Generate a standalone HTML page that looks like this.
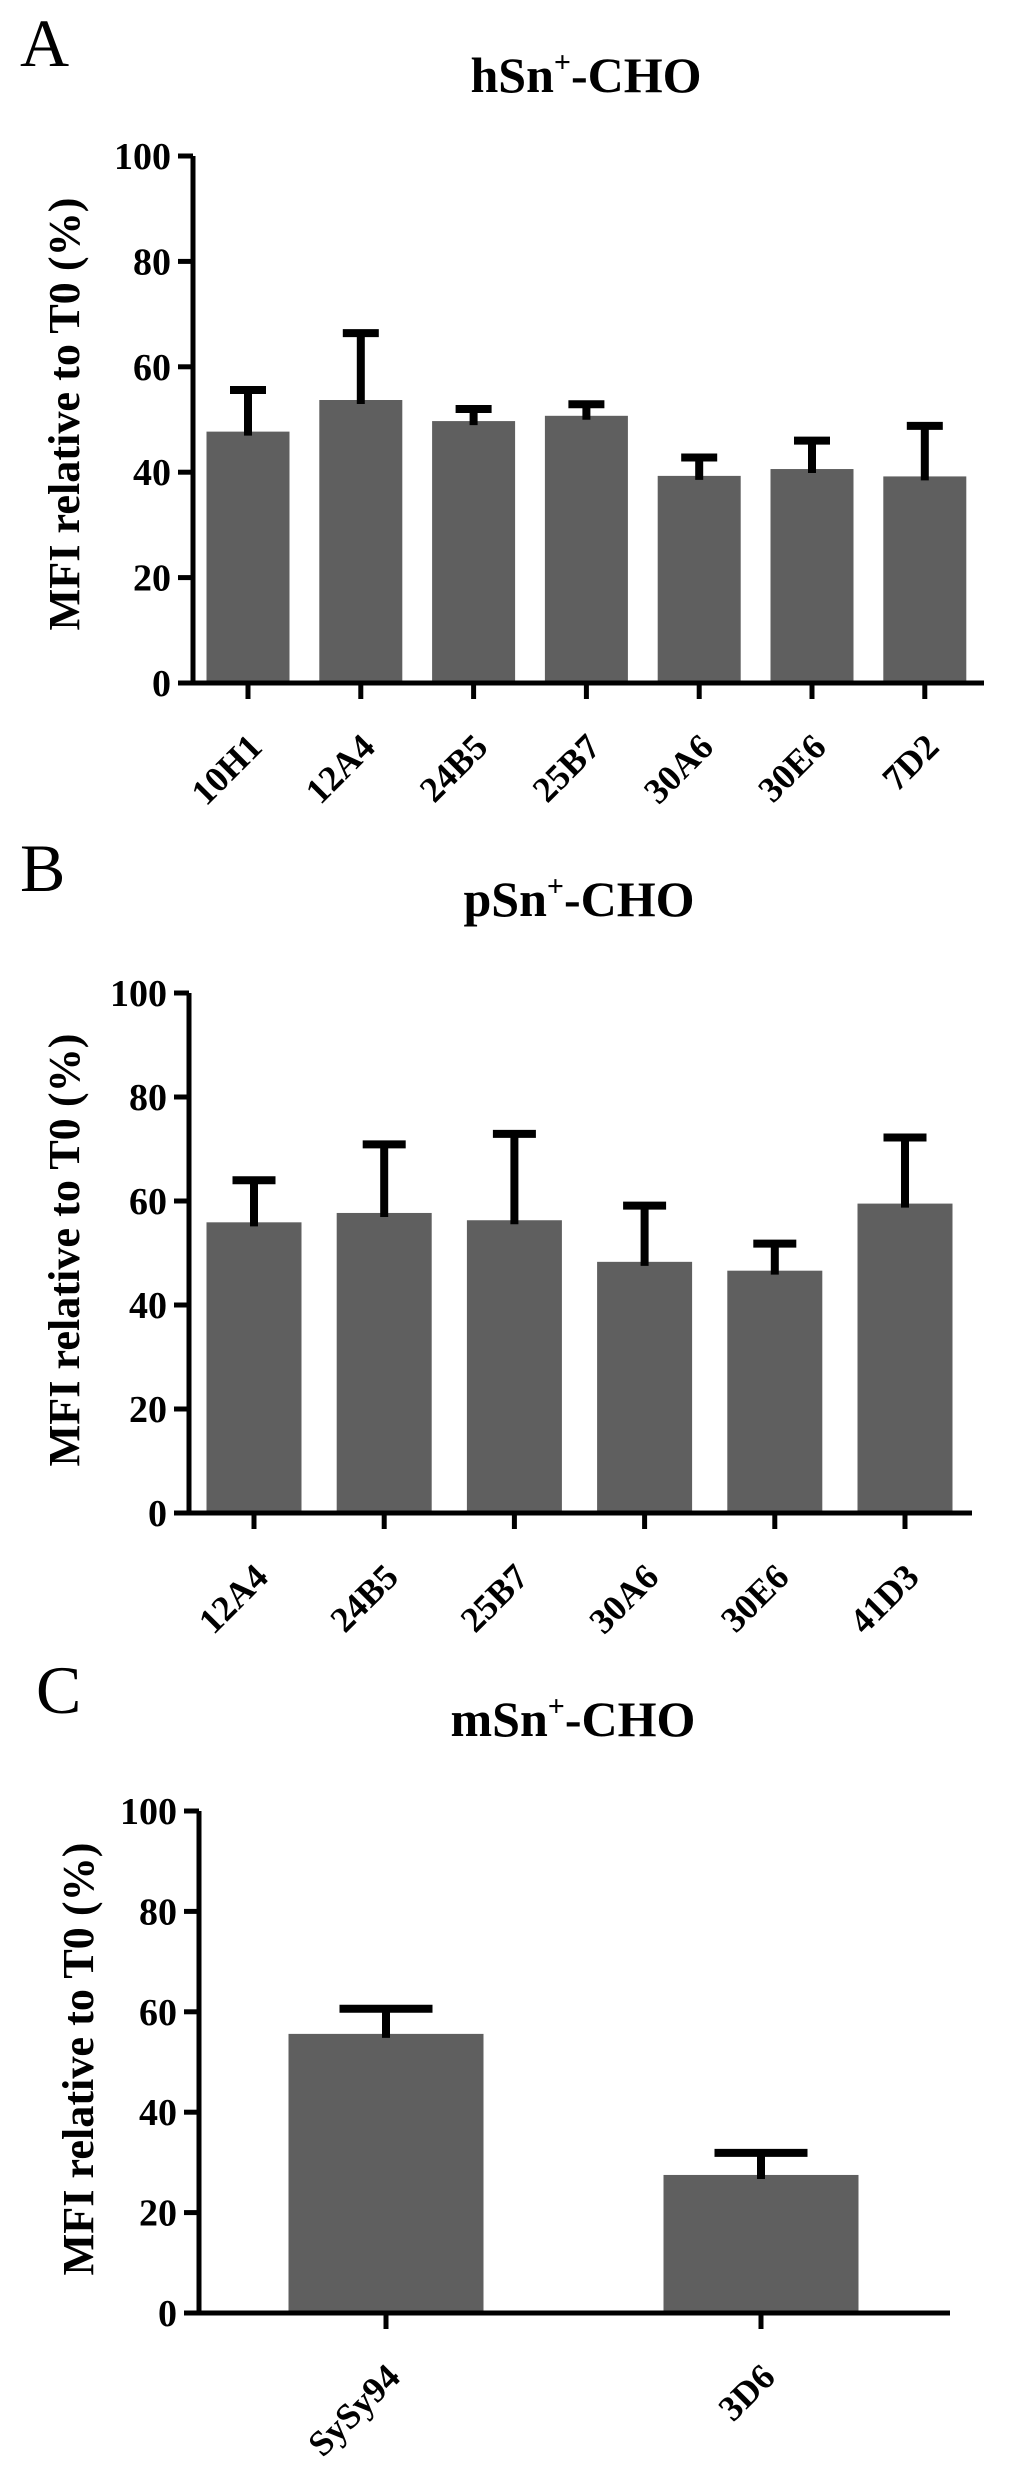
<!DOCTYPE html>
<html><head><meta charset="utf-8"><style>
html,body{margin:0;padding:0;background:#fff}
svg{display:block}
text{font-family:"Liberation Serif",serif}
</style></head><body>
<svg id="fig" width="1024" height="2467" viewBox="0 0 1024 2467" xmlns="http://www.w3.org/2000/svg">
<text x="20" y="66" font-size="68">A</text>
<text x="20" y="891" font-size="68">B</text>
<text x="36" y="1713" font-size="68">C</text>
<text x="586" y="92" font-size="50" font-weight="bold" text-anchor="middle">hSn<tspan dy="-20" font-size="30">+</tspan><tspan dy="20">-CHO</tspan></text>
<text x="579" y="916" font-size="50" font-weight="bold" text-anchor="middle">pSn<tspan dy="-20" font-size="30">+</tspan><tspan dy="20">-CHO</tspan></text>
<text x="573" y="1736" font-size="50" font-weight="bold" text-anchor="middle">mSn<tspan dy="-20" font-size="30">+</tspan><tspan dy="20">-CHO</tspan></text>
</svg>
<script>
const catsA = ["10H1","12A4","24B5","25B7","30A6","30E6","7D2"];
const valsA = [47.7,53.7,49.7,50.7,39.3,40.6,39.2];
const errTopA = [55.6,66.4,52.0,52.9,42.8,46.0,48.8];
const catsB = ["12A4","24B5","25B7","30A6","30E6","41D3"];
const valsB = [55.9,57.7,56.3,48.3,46.6,59.5];
const errTopB = [64.0,70.9,72.9,59.1,51.8,72.2];
const catsC = ["SySy94","3D6"];
const valsC = [55.6,27.5];
const errTopC = [60.6,31.9];
const yTicks = [0,20,40,60,80,100];

const NS = "http://www.w3.org/2000/svg";
const svg = document.getElementById("fig");
function mk(tag, attrs, parent){
  const e = document.createElementNS(NS, tag);
  for (const k in attrs) e.setAttribute(k, attrs[k]);
  (parent||svg).appendChild(e);
  return e;
}
function chart(id, cats, vals, errs, L){
  const g = mk("g", {});
  
  
  const y = v => L.y0 - (v/100)*(L.y0 - L.y100);
  const x = i => L.firstTick + i*L.step;
  cats.forEach((c,i)=>{
    const r = mk("rect", {x: x(i)-L.bw/2, y: y(vals[i]), width: L.bw, height: y(0)-y(vals[i]), fill:"#5f5f5f"}, g);
    
    
    const e = mk("path", {d:`M${x(i)} ${y(vals[i])+4}V${y(errs[i])}M${x(i)-L.cw/2} ${y(errs[i])}H${x(i)+L.cw/2}`, stroke:"#000", "stroke-width":8, fill:"none"}, g);
    
    
  });
  const ya = mk("path", {d:`M${L.ax} ${y(100)}V${y(0)}`, stroke:"#000","stroke-width":5,fill:"none"}, g);
  
  
  const xa = mk("path", {d:`M${L.ax-15} ${y(0)}H${L.xEnd}`, stroke:"#000","stroke-width":5,fill:"none"}, g);
  
  
  yTicks.forEach(t=>{
    const tk = mk("path", {d:`M${L.ax-15} ${y(t)}H${L.ax}`, stroke:"#000","stroke-width":5}, g);
    
    
    const tl = mk("text", {x:L.ax-22, y:y(t)+13, "font-size":38, "font-weight":"bold", "text-anchor":"end"}, g);
    tl.textContent = String(t);
    
    
  });
  cats.forEach((c,i)=>{
    const tk = mk("path", {d:`M${x(i)} ${y(0)}V${y(0)+16}`, stroke:"#000","stroke-width":5}, g);
    
    
    const px = x(i)+16, py = y(0)+66;
    const tl = mk("text", {x:px, y:py, "font-size":36, "font-weight":"bold", "text-anchor":"end", transform:`rotate(-45 ${px} ${py})`}, g);
    tl.textContent = c;
    
    
  });
  const t = mk("text", {x:0, y:0, "font-size":44, "font-weight":"bold", "text-anchor":"middle", textLength:433, lengthAdjust:"spacingAndGlyphs", transform:`translate(${L.tx+15} ${L.ty}) rotate(-90)`}, g);
  t.textContent = "MFI relative to T0 (%)";
  
  
}
chart("a", catsA, valsA, errTopA, {ax:193, y0:683, y100:156, firstTick:248, step:112.8, bw:83, cw:36, xEnd:984, tx:64, ty:414});
chart("b", catsB, valsB, errTopB, {ax:189, y0:1513, y100:993, firstTick:254, step:130.2, bw:95, cw:43, xEnd:972, tx:64, ty:1250});
chart("c", catsC, valsC, errTopC, {ax:199, y0:2313, y100:1811, firstTick:386, step:375, bw:195, cw:93, xEnd:950, tx:78, ty:2059});
</script>
</body></html>
